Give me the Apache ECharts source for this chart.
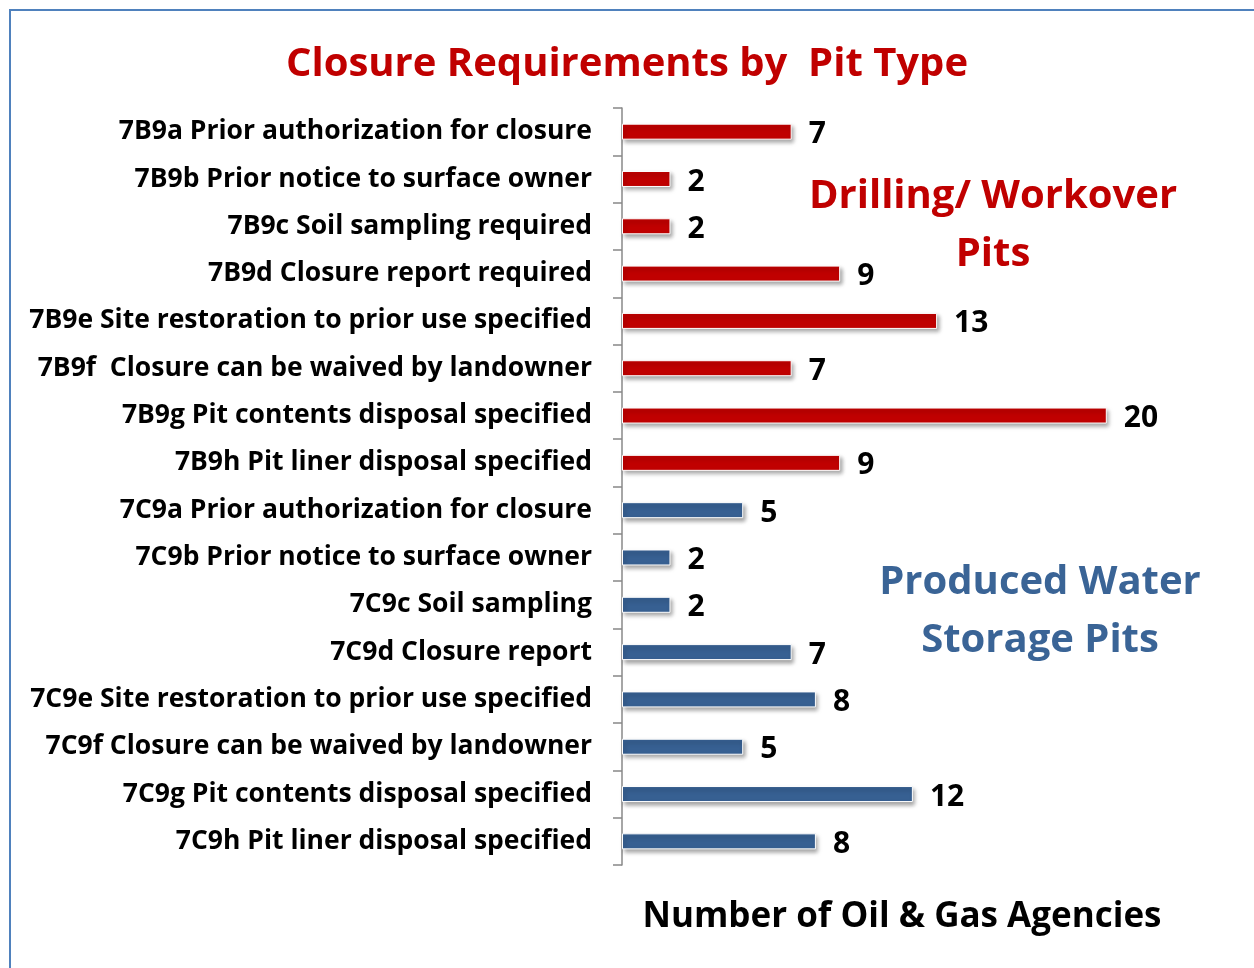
<!DOCTYPE html>
<html>
<head>
<meta charset="utf-8">
<script src="https://cdn.jsdelivr.net/npm/echarts@6/dist/echarts.min.js"></script>
<style>
  html, body { margin: 0; padding: 0; background: #fff; }
  #chart { width: 1254px; height: 968px; }
</style>
</head>
<body>
<div id="chart"></div>
<script>
// drilling / workover pits
const drillingLabels = [
  '7B9a Prior authorization for closure',
  '7B9b Prior notice to surface owner',
  '7B9c Soil sampling required',
  '7B9d Closure report required',
  '7B9e Site restoration to prior use specified',
  '7B9f  Closure can be waived by landowner',
  '7B9g Pit contents disposal specified',
  '7B9h Pit liner disposal specified'
]
const drillingValues = [7, 2, 2, 9, 13, 7, 20, 9]

// produced water storage pits
const producedLabels = [
  '7C9a Prior authorization for closure',
  '7C9b Prior notice to surface owner',
  '7C9c Soil sampling',
  '7C9d Closure report',
  '7C9e Site restoration to prior use specified',
  '7C9f Closure can be waived by landowner',
  '7C9g Pit contents disposal specified',
  '7C9h Pit liner disposal specified'
]
const producedValues = [5, 2, 2, 7, 8, 5, 12, 8]

const RED = '#c00000'
const BLUE = '#376092'
const FONT = '"Open Sans", "Noto Sans", sans-serif'

const categories = drillingLabels.concat(producedLabels)
const barData = drillingValues.map(v => ({ value: v, itemStyle: { color: RED } }))
  .concat(producedValues.map(v => ({ value: v, itemStyle: { color: BLUE } })))

const chart = echarts.init(document.getElementById('chart'))

const option = {
  animation: false,
  title: {
    text: 'Closure Requirements by  Pit Type',
    left: 'center',
    top: 40,
    textStyle: { color: RED, fontFamily: FONT, fontWeight: 'bold', fontSize: 40 }
  },
  grid: { left: 622, width: 606, top: 108, bottom: 103, containLabel: false },
  xAxis: {
    type: 'value',
    min: 0,
    max: 25,
    show: false
  },
  yAxis: {
    type: 'category',
    inverse: true,
    data: categories,
    axisLine: { lineStyle: { color: '#888', width: 1.5 } },
    axisTick: { show: true, inside: false, length: 9, lineStyle: { color: '#888', width: 1.5 } },
    axisLabel: {
      margin: 30,
      color: '#000',
      fontFamily: FONT,
      fontWeight: 'bold',
      fontSize: 26.5,
      padding: [4, 0, 0, 0]
    }
  },
  series: [{
    type: 'bar',
    data: barData,
    barWidth: 16,
    itemStyle: {
      borderColor: '#fff',
      borderWidth: 1,
      shadowBlur: 4,
      shadowOffsetX: 2,
      shadowOffsetY: 3,
      shadowColor: 'rgba(0,0,0,0.35)'
    },
    label: {
      show: true,
      position: 'right',
      distance: 17,
      offset: [0, 3],
      color: '#000',
      fontFamily: FONT,
      fontWeight: 'bold',
      fontSize: 30
    }
  }],
  graphic: [
    {
      type: 'rect',
      silent: true,
      shape: { x: 10, y: 10, width: 1400, height: 1200 },
      style: { fill: 'none', stroke: '#4f81bd', lineWidth: 2 }
    },
    {
      type: 'text',
      x: 993, y: 226,
      style: {
        text: 'Drilling/ Workover\nPits',
        fill: RED,
        font: 'bold 40px ' + FONT,
        align: 'center',
        verticalAlign: 'middle',
        lineHeight: 58
      }
    },
    {
      type: 'text',
      x: 1040, y: 612,
      style: {
        text: 'Produced Water\nStorage Pits',
        fill: '#3a6496',
        font: 'bold 40px ' + FONT,
        align: 'center',
        verticalAlign: 'middle',
        lineHeight: 58
      }
    },
    {
      type: 'text',
      x: 902, y: 917,
      style: {
        text: 'Number of Oil & Gas Agencies',
        fill: '#000',
        font: 'bold 35px ' + FONT,
        align: 'center',
        verticalAlign: 'middle'
      }
    }
  ]
}

chart.setOption(option)
</script>
</body>
</html>
